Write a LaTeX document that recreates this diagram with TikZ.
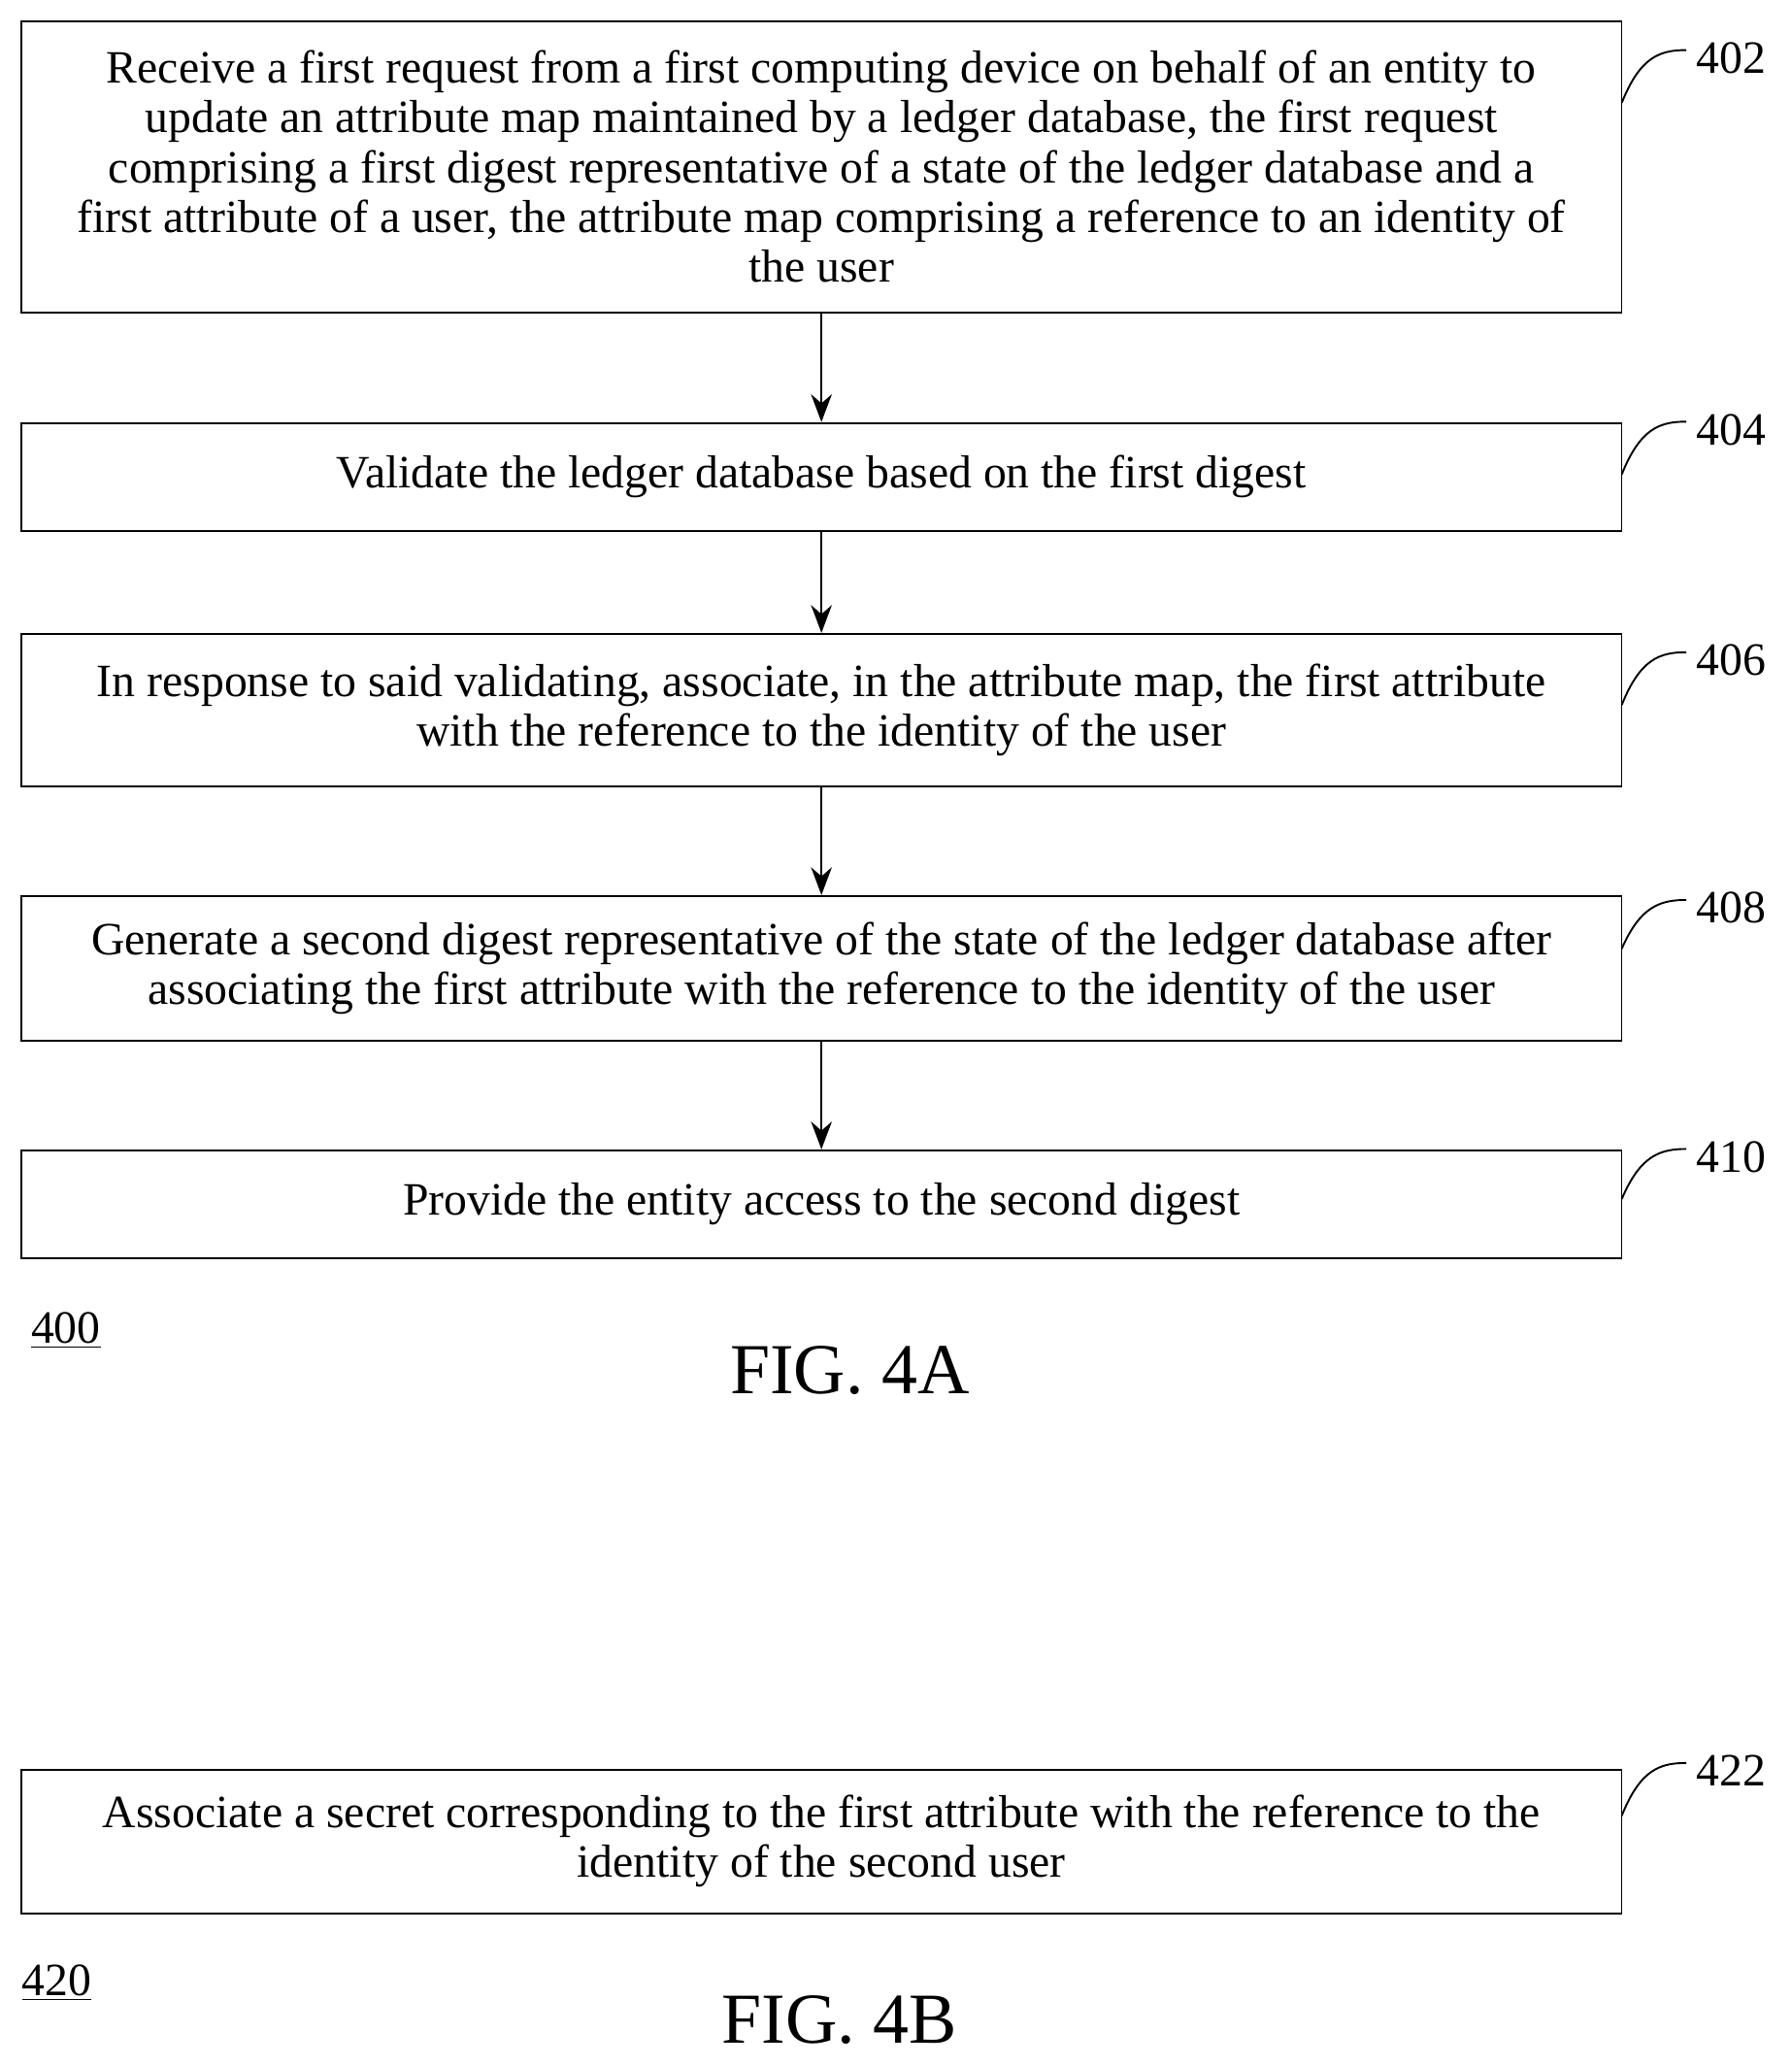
\documentclass[tikz,border=0pt]{standalone}
\usepackage{fontspec}
\setmainfont{Liberation Serif}
\usetikzlibrary{arrows.meta}
\begin{document}
\begin{tikzpicture}[x=0.02cm,y=-0.02cm,
  stepbox/.style={draw,thick,minimum width=24.3cm,align=center,inner sep=0pt,font=\fontsize{20}{21.5}\selectfont},
  flow/.style={thick,-{Stealth[length=12pt,width=9pt]}},
  reflab/.style={font=\fontsize{20}{22}\selectfont}]
\useasboundingbox (0,0) rectangle (1360,1568);
\node[stepbox,minimum height=4.42cm] (402) at (623.5,126.5) {Receive a first request from a first computing device on behalf of an entity to\\ update an attribute map maintained by a ledger database, the first request\\ comprising a first digest representative of a state of the ledger database and a\\ first attribute of a user, the attribute map comprising a reference to an identity of\\ the user};
\node[stepbox,minimum height=1.64cm] (404) at (623.5,362) {Validate the ledger database based on the first digest};
\node[stepbox,minimum height=2.32cm] (406) at (623.5,539) {In response to said validating, associate, in the attribute map, the first attribute\\ with the reference to the identity of the user};
\node[stepbox,minimum height=2.2cm] (408) at (623.5,735) {Generate a second digest representative of the state of the ledger database after\\ associating the first attribute with the reference to the identity of the user};
\node[stepbox,minimum height=1.64cm] (410) at (623.5,914) {Provide the entity access to the second digest};
\node[stepbox,minimum height=2.18cm] (422) at (623.5,1397.5) {Associate a secret corresponding to the first attribute with the reference to the\\ identity of the second user};

\draw[flow] (402) -- (404);
\draw[flow] (404) -- (406);
\draw[flow] (406) -- (408);
\draw[flow] (408) -- (410);

% reference numerals
\foreach \n/\ys/\ye in {402/78/38,404/360/320,406/535/495,408/720/683,410/910/872,422/1378/1338}{
  \draw[thick] (1231,\ys) .. controls (1245,\ye+5) and (1260,\ye) .. (1280,\ye);
  \node[reflab] at (1314,\ye+6) {\n};
}
\node[reflab] (400) at (50,1010) {\underline{400}};
\node[font=\fontsize{31}{34}\selectfont] (fig4a) at (645,1040) {FIG. 4A};
\node[reflab] (420) at (43,1505) {\underline{420}};
\node[font=\fontsize{31}{34}\selectfont] (fig4b) at (637,1533) {FIG. 4B};
\end{tikzpicture}
\end{document}
